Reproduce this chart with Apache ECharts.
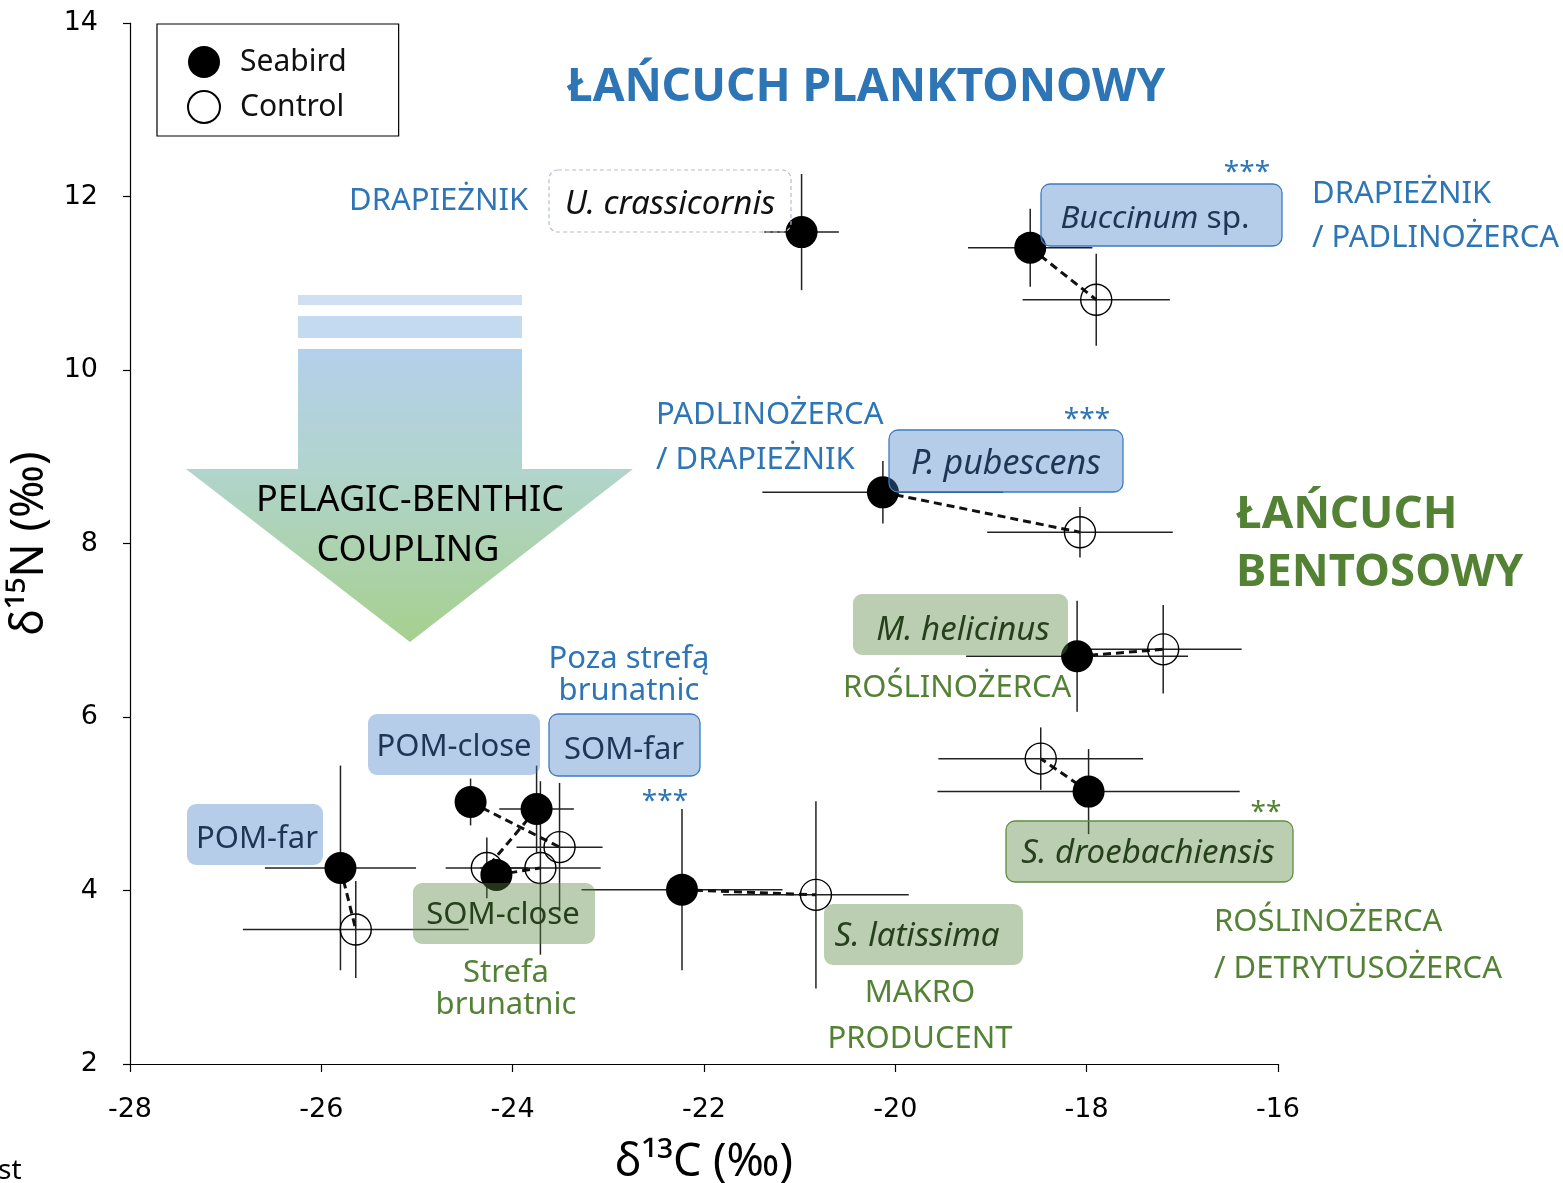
<!DOCTYPE html>
<html>
<head>
<meta charset="utf-8">
<script src="https://cdn.jsdelivr.net/npm/echarts@6/dist/echarts.min.js"></script>
<style>
html,body{margin:0;padding:0;background:#fff;}
#chart{width:1563px;height:1183px;}
</style>
</head>
<body>
<div id="chart"></div>
<script>
// ---------- DATA ----------
const species = ['U. crassicornis','Buccinum sp.','P. pubescens','M. helicinus','S. droebachiensis','S. latissima','POM-far','POM-close','SOM-far','SOM-close'];
const seabirdX    = [-20.98, -18.59, -20.13, -18.10, -17.98, -22.23, -25.80, -24.44, -23.75, -24.17];
const seabirdY    = [ 11.59,  11.41,   8.59,   6.70,   5.14,   4.01,   4.26,   5.02,   4.94,   4.18];
const seabirdXErr = [  0.39,   0.65,   1.26,   1.16,   1.58,   1.05,   0.79,   0.10,   0.39,   0.12];
const seabirdYErr = [  0.67,   0.45,   0.36,   0.64,   0.49,   0.93,   1.18,   0.27,   0.50,   0.12];
const controlX    = [  null, -17.90, -18.07, -17.20, -18.48, -20.83, -25.64, -23.51, -24.27, -23.71];
const controlY    = [  null,  10.81,   8.13,   6.78,   5.52,   3.95,   3.55,   4.50,   4.26,   4.26];
const controlXErr = [  null,   0.77,   0.97,   0.82,   1.07,   0.97,   1.18,   0.45,   0.43,   0.63];
const controlYErr = [  null,   0.53,   0.29,   0.51,   0.36,   1.08,   0.56,   0.74,   0.35,   1.00];
const xTicks = [-28, -26, -24, -22, -20, -18, -16];
const yTicks = [2, 4, 6, 8, 10, 12, 14];

// ---------- BUILD ----------
const seabirdPts = species.map((s, i) => [seabirdX[i], seabirdY[i]]);
const controlPts = species.map((s, i) => controlX[i] == null ? null : [controlX[i], controlY[i]]).filter(Boolean);
const seabirdErr = species.map((s, i) => [seabirdX[i], seabirdY[i], seabirdXErr[i], seabirdYErr[i]]);
const controlErr = species.map((s, i) => controlX[i] == null ? null : [controlX[i], controlY[i], controlXErr[i], controlYErr[i]]).filter(Boolean);
const pairs = species.map((s, i) => controlX[i] == null ? null : [seabirdX[i], seabirdY[i], controlX[i], controlY[i]]).filter(Boolean);

function errRender(params, api) {
  const x = api.value(0), y = api.value(1), xe = api.value(2), ye = api.value(3);
  const l = api.coord([x - xe, y]), r = api.coord([x + xe, y]);
  const t = api.coord([x, y + ye]), b = api.coord([x, y - ye]);
  const st = { stroke: '#222', lineWidth: 1.5 };
  return { type: 'group', children: [
    { type: 'line', shape: { x1: l[0], y1: l[1], x2: r[0], y2: r[1] }, style: st },
    { type: 'line', shape: { x1: t[0], y1: t[1], x2: b[0], y2: b[1] }, style: st }
  ]};
}
function pairRender(params, api) {
  const a = api.coord([api.value(0), api.value(1)]);
  const b = api.coord([api.value(2), api.value(3)]);
  return { type: 'line', shape: { x1: a[0], y1: a[1], x2: b[0], y2: b[1] },
    style: { stroke: '#111', lineWidth: 3, lineDash: [8, 5] } };
}

const BLUE = '#2E75B6', GREEN = '#548235';
const FONT = '"Noto Sans", sans-serif';
const BOX_BLUE = 'rgba(72,130,200,0.4)', BOX_GREEN = 'rgba(88,133,63,0.4)';
const TXT_BLUE = '#1F3556', TXT_GREEN = '#25401A';

function txt(text, x, y, opts) {
  opts = opts || {};
  return { type: 'text', z: 120, silent: true, style: {
    text: text, x: x, y: y,
    align: opts.align || 'left', verticalAlign: 'middle',
    fill: opts.color || BLUE,
    font: (opts.italic ? 'italic ' : '') + (opts.bold ? 'bold ' : '') + (opts.size || 31) + 'px ' + FONT,
    rich: opts.rich
  }};
}
function box(x, y, w, h, kind) {
  const st = { fill: 'none' };
  if (kind === 'dash') { st.fill = 'rgba(255,255,255,0)'; st.stroke = '#B4BDCD'; st.lineWidth = 1.2; st.lineDash = [4, 3]; }
  if (kind === 'blue') { st.fill = BOX_BLUE; }
  if (kind === 'blueB') { st.fill = BOX_BLUE; st.stroke = '#3B7CC2'; st.lineWidth = 1.3; }
  if (kind === 'green') { st.fill = BOX_GREEN; }
  if (kind === 'greenB') { st.fill = BOX_GREEN; st.stroke = '#5E8F3E'; st.lineWidth = 1.3; }
  return { type: 'rect', z: 110, silent: true, shape: { x: x, y: y, width: w, height: h, r: 9 }, style: st };
}

const graphics = [
  // pelagic-benthic arrow
  { type: 'rect', z: 1, silent: true, shape: { x: 298, y: 295, width: 224, height: 10 }, style: { fill: 'rgb(206,224,242)' } },
  { type: 'rect', z: 1, silent: true, shape: { x: 298, y: 316, width: 224, height: 22 }, style: { fill: 'rgb(196,218,240)' } },
  { type: 'polygon', z: 1, silent: true,
    shape: { points: [[298,349],[522,349],[522,469],[633,469],[410,642],[186,469],[298,469]] },
    style: { fill: new echarts.graphic.LinearGradient(0, 0, 0, 1, [
      { offset: 0, color: 'rgb(180,208,236)' },
      { offset: 0.41, color: 'rgb(177,212,205)' },
      { offset: 1, color: 'rgb(166,208,142)' }]) } },
  txt('PELAGIC-BENTHIC', 410, 501, { align: 'center', color: '#000', size: 36 }),
  txt('COUPLING', 408, 551, { align: 'center', color: '#000', size: 36 }),

  // chain titles
  txt('ŁAŃCUCH PLANKTONOWY', 866, 88, { align: 'center', bold: true, size: 46 }),
  txt('ŁAŃCUCH', 1236, 515, { bold: true, size: 45.5, color: GREEN }),
  txt('BENTOSOWY', 1236, 573, { bold: true, size: 45.5, color: GREEN }),

  // trophic labels
  txt('DRAPIEŻNIK', 349, 201),
  txt('DRAPIEŻNIK', 1312, 194),
  txt('/ PADLINOŻERCA', 1312, 238),
  txt('PADLINOŻERCA', 656, 415),
  txt('/ DRAPIEŻNIK', 656, 460),
  txt('ROŚLINOŻERCA', 843, 688, { color: GREEN }),
  txt('ROŚLINOŻERCA', 1214, 922, { color: GREEN }),
  txt('/ DETRYTUSOŻERCA', 1214, 969, { color: GREEN }),
  txt('MAKRO', 920, 993, { align: 'center', color: GREEN }),
  txt('PRODUCENT', 920, 1039, { align: 'center', color: GREEN }),
  txt('Poza strefą', 629, 659, { align: 'center' }),
  txt('brunatnic', 629, 691, { align: 'center' }),
  txt('Strefa', 506, 973, { align: 'center', color: GREEN }),
  txt('brunatnic', 506, 1005, { align: 'center', color: GREEN }),

  // significance
  txt('***', 1247, 173, { align: 'center', size: 28 }),
  txt('***', 1087, 420, { align: 'center', size: 28 }),
  txt('***', 665, 802, { align: 'center', size: 28 }),
  txt('**', 1266, 813, { align: 'center', size: 28, color: GREEN }),

  // species boxes
  box(549, 170, 242, 62, 'dash'),
  txt('U. crassicornis', 670, 205, { align: 'center', italic: true, color: '#111', size: 33 }),
  box(1041, 184, 241, 62, 'blueB'),
  txt('{i|Buccinum} sp.', 1155, 219, { align: 'center', color: TXT_BLUE, size: 31.5,
      rich: { i: { fontStyle: 'italic', fontSize: 31.5, fontFamily: FONT, fill: TXT_BLUE } } }),
  box(889, 430, 234, 62, 'blueB'),
  txt('P. pubescens', 1006, 464, { align: 'center', italic: true, color: TXT_BLUE, size: 34 }),
  box(368, 714, 172, 61, 'blue'),
  txt('POM-close', 454, 747, { align: 'center', color: TXT_BLUE }),
  box(549, 714, 151, 62, 'blueB'),
  txt('SOM-far', 624, 750, { align: 'center', color: TXT_BLUE }),
  box(187, 804, 136, 61, 'blue'),
  txt('POM-far', 257, 839, { align: 'center', color: TXT_BLUE }),
  box(853, 594, 215, 61, 'green'),
  txt('M. helicinus', 963, 631, { align: 'center', italic: true, color: TXT_GREEN, size: 33 }),
  box(1006, 821, 287, 61, 'greenB'),
  txt('S. droebachiensis', 1148, 854, { align: 'center', italic: true, color: TXT_GREEN, size: 33 }),
  box(824, 904, 199, 61, 'green'),
  txt('S. latissima', 917, 937, { align: 'center', italic: true, color: TXT_GREEN, size: 33 }),
  box(413, 883, 182, 61, 'green'),
  txt('SOM-close', 503, 915, { align: 'center', color: TXT_GREEN }),

  // clipped fragment at lower left
  txt('st', -2, 1171, { color: '#000', size: 28 })
];

const chart = echarts.init(document.getElementById('chart'), null, { renderer: 'canvas' });
chart.setOption({
  animation: false,
  backgroundColor: '#fff',
  grid: { left: 130, top: 23, width: 1148, height: 1041, containLabel: false, outerBoundsMode: 'none' },
  xAxis: {
    type: 'value', min: xTicks[0], max: xTicks[xTicks.length - 1], interval: 2,
    name: 'δ¹³C (‰)', nameLocation: 'middle', nameGap: 77,
    nameTextStyle: { fontSize: 45, fontFamily: FONT, color: '#000' },
    axisLine: { onZero: false, lineStyle: { color: '#000', width: 1.2 } },
    axisTick: { show: true, inside: false, length: 8, lineStyle: { color: '#000', width: 1.2 } },
    axisLabel: { fontSize: 27, fontFamily: '"DejaVu Sans", sans-serif', color: '#000', margin: 32 },
    splitLine: { show: false }
  },
  yAxis: {
    type: 'value', min: yTicks[0], max: yTicks[yTicks.length - 1], interval: 2,
    name: 'δ¹⁵N (‰)', nameLocation: 'middle', nameGap: 72,
    nameTextStyle: { fontSize: 45, fontFamily: FONT, color: '#000' },
    axisLine: { onZero: false, lineStyle: { color: '#000', width: 1.2 } },
    axisTick: { show: true, inside: false, length: 7, lineStyle: { color: '#000', width: 1.2 } },
    axisLabel: { fontSize: 27, fontFamily: '"DejaVu Sans", sans-serif', color: '#000', margin: 32 },
    splitLine: { show: false }
  },
  legend: {
    left: 157, top: 24, orient: 'vertical',
    padding: [22, 52, 12, 30], itemWidth: 32, itemHeight: 32, itemGap: 12,
    borderColor: '#000', borderWidth: 1.2,
    textStyle: { fontSize: 30, fontFamily: FONT, color: '#111', lineHeight: 32, padding: [0, 0, 0, 15] },
    data: [{ name: 'Seabird', icon: 'circle' }, { name: 'Control', icon: 'circle' }],
    selectedMode: false
  },
  graphic: graphics,
  series: [
    { type: 'custom', name: 'seabird-err', renderItem: errRender, data: seabirdErr, encode: { x: 0, y: 1 }, z: 2, silent: true },
    { type: 'custom', name: 'control-err', renderItem: errRender, data: controlErr, encode: { x: 0, y: 1 }, z: 2, silent: true },
    { type: 'custom', name: 'pairs', renderItem: pairRender, data: pairs, encode: { x: [0, 2], y: [1, 3] }, z: 3, silent: true },
    { type: 'scatter', name: 'Control', data: controlPts, symbol: 'circle', symbolSize: 31, z: 4,
      itemStyle: { color: 'rgba(255,255,255,0)', borderColor: '#000', borderWidth: 1.4, opacity: 1 }, silent: true },
    { type: 'scatter', name: 'Seabird', data: seabirdPts, symbol: 'circle', symbolSize: 32, z: 5,
      itemStyle: { color: '#000', opacity: 1 }, silent: true }
  ]
});
</script>
</body>
</html>
